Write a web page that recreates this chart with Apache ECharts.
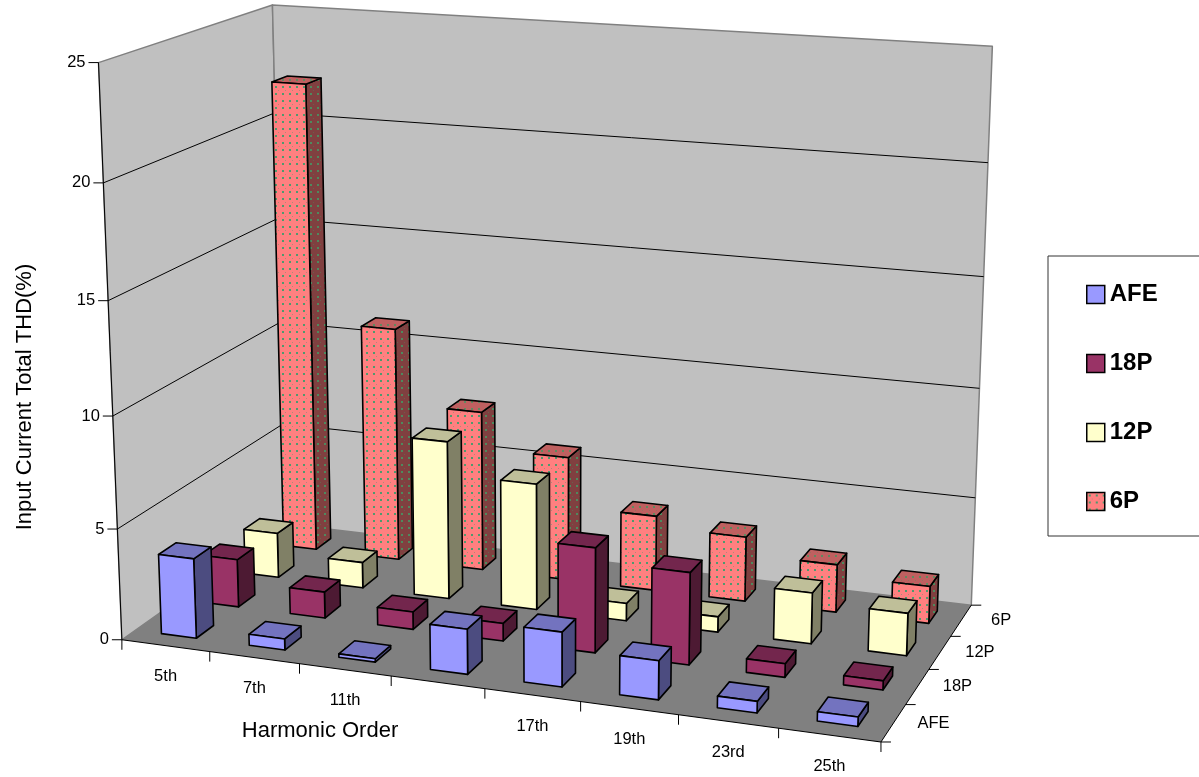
<!DOCTYPE html>
<html>
<head>
<meta charset="utf-8">
<style>html,body{margin:0;padding:0;background:#fff}#chart{width:1199px;height:777px}</style>
<script src="https://cdn.jsdelivr.net/npm/echarts@6/dist/echarts.min.js"></script>
</head>
<body>
<div id="chart"></div>
<script>
// Harmonic spectrum per converter topology, in percent of input current.
const harmonicLabels = ['5th', '7th', '11th', '', '17th', '19th', '23rd', '25th'];
const topologies = ['AFE', '18P', '12P', '6P'];
const valueTicks = [0, 5, 10, 15, 20, 25];
const afeValues = [3.6, 0.5, 0.15, 2.0, 2.4, 1.7, 0.5, 0.4];
const p18Values = [2.2, 1.2, 0.8, 0.8, 4.7, 4.1, 0.6, 0.4];
const p12Values = [2.1, 1.2, 7.3, 5.8, 0.8, 0.7, 2.3, 1.9];
const p6Values = [22, 11, 7.5, 5.8, 3.5, 3.0, 2.2, 1.7];

const FONT = '"Liberation Sans", Arial, sans-serif';
const VALUE_MAX = 25;

// Camera calibration: box coordinates [u, v, value / max] and where they land on the page.
const cameraAnchors = [
  [0, 0, 0, 122, 640], [1, 0, 0, 881, 742], [1, 1, 0, 971, 605], [0, 1, 0, 285, 524],
  [0, 0, 1, 98, 63], [0, 1, 1, 273, 5], [1, 1, 1, 992, 47],
  [0, 0, .8, 103, 183], [0, 0, .6, 108, 300], [0, 0, .4, 113, 416], [0, 0, .2, 118, 529],
  [1, 1, .8, 988, 162], [1, 1, .6, 984, 276], [1, 1, .4, 980, 389], [1, 1, .2, 975, 498]
];

// Least squares fit of a 3x4 projective camera, with the last entry fixed at 1.
function fitCamera(points) {
  const n = 11;
  const A = Array.from({ length: n }, () => new Array(n + 1).fill(0));
  const addRow = (row, rhs) => {
    for (let i = 0; i < n; i++) {
      for (let j = 0; j < n; j++) A[i][j] += row[i] * row[j];
      A[i][n] += row[i] * rhs;
    }
  };
  points.forEach(([X, Y, Z, px, py]) => {
    const x = px / 1000, y = py / 1000;
    addRow([X, Y, Z, 1, 0, 0, 0, 0, -x * X, -x * Y, -x * Z], x);
    addRow([0, 0, 0, 0, X, Y, Z, 1, -y * X, -y * Y, -y * Z], y);
  });
  for (let c = 0; c < n; c++) {
    let best = c;
    for (let r = c + 1; r < n; r++) if (Math.abs(A[r][c]) > Math.abs(A[best][c])) best = r;
    [A[c], A[best]] = [A[best], A[c]];
    for (let r = 0; r < n; r++) {
      if (r === c) continue;
      const f = A[r][c] / A[c][c];
      for (let k = c; k <= n; k++) A[r][k] -= f * A[c][k];
    }
  }
  return A.map((row, i) => row[n] / row[i]);
}
const cam = fitCamera(cameraAnchors);

// Maps category fraction u, depth fraction v and a chart value to a page position.
function project(u, v, value) {
  const w = value / VALUE_MAX;
  const d = cam[8] * u + cam[9] * v + cam[10] * w + 1;
  return [
    1000 * (cam[0] * u + cam[1] * v + cam[2] * w + cam[3]) / d,
    1000 * (cam[4] * u + cam[5] * v + cam[6] * w + cam[7]) / d
  ];
}

// Stippled fill used by the 6P bars.
function dotted(base, dot) {
  const c = document.createElement('canvas');
  c.width = 7; c.height = 14;
  const g = c.getContext('2d');
  g.fillStyle = base; g.fillRect(0, 0, 7, 14);
  g.fillStyle = dot;
  g.fillRect(2, 2, 2, 2);
  g.fillRect(2, 9, 2, 2);
  g.globalAlpha = .45;
  g.fillRect(5, 6, 1, 1);
  return { image: c, repeat: 'repeat' };
}

const faces = {
  AFE: { front: '#9999FF', top: '#7373BF', side: '#4C4C80' },
  '18P': { front: '#993366', top: '#73264D', side: '#4D1A33' },
  '12P': { front: '#FFFFCC', top: '#BFBF99', side: '#808066' },
  '6P': {
    front: dotted('#FF8080', '#4E9A6E'),
    top: dotted('#BF6060', '#5F8A60'),
    side: dotted('#804040', '#4E8A5E')
  }
};

const poly = (points, fill, lineWidth, stroke) => ({
  type: 'polygon',
  shape: { points },
  style: { fill, stroke: stroke || '#000', lineWidth: lineWidth === undefined ? 1.6 : lineWidth, lineJoin: 'round' }
});
const line = (a, b, stroke, lineWidth) => ({
  type: 'line',
  shape: { x1: a[0], y1: a[1], x2: b[0], y2: b[1] },
  style: { stroke: stroke || '#000', lineWidth: lineWidth || 1 }
});
const label = (text, x, y, size, align) => ({
  type: 'text',
  style: { text, x, y, fontFamily: FONT, fontSize: size, fill: '#000', align: align || 'center', verticalAlign: 'middle' }
});

// Walls, floor, gridlines and the three axes.
function renderFrame() {
  const children = [];
  const m = VALUE_MAX;
  children.push(poly([project(0, 0, 0), project(0, 0, m), project(0, 1, m), project(0, 1, 0)], '#C0C0C0', 1.5, '#808080'));
  children.push(poly([project(0, 1, 0), project(0, 1, m), project(1, 1, m), project(1, 1, 0)], '#C0C0C0', 1.5, '#808080'));
  children.push(poly([project(0, 0, 0), project(1, 0, 0), project(1, 1, 0), project(0, 1, 0)], '#808080', 0));
  valueTicks.forEach(t => {
    const a = project(0, 0, t);
    if (t > 0 && t < m) {
      children.push(line(a, project(0, 1, t)));
      children.push(line(project(0, 1, t), project(1, 1, t)));
    }
    children.push(line([a[0] - 10, a[1]], a, '#000', 1));
    children.push(label(String(t), a[0] - 13, a[1], 16.5, 'right'));
  });
  children.push(line(project(0, 0, 0), project(0, 0, m), '#000', 1));
  children.push(line(project(0, 0, 0), project(1, 0, 0), '#000', 1.2));
  children.push(line(project(1, 0, 0), project(1, 1, 0), '#000', 1));
  harmonicLabels.forEach((name, i) => {
    const n = harmonicLabels.length;
    const a = project(i / n, 0, 0);
    children.push(line(a, [a[0], a[1] + 10]));
    const c = project((i + .5) / n, 0, 0);
    if (name) children.push(label(name, c[0], c[1] + 31, 16.5));
  });
  const end = project(1, 0, 0);
  children.push(line(end, [end[0], end[1] + 10]));
  topologies.forEach((name, r) => {
    const n = topologies.length;
    const a = project(1, r / n, 0);
    children.push(line(a, [a[0] + 10, a[1]]));
    const c = project(1, (r + .5) / n, 0);
    children.push(label(name, c[0] + 40, c[1], 16.5));
  });
  const last = project(1, 1, 0);
  children.push(line(last, [last[0] + 10, last[1]]));
  children.push(label('Harmonic Order', 320, 731, 22));
  const yTitle = label('Input Current Total THD(%)', 0, 0, 22);
  yTitle.x = 25; yTitle.y = 397; yTitle.rotation = Math.PI / 2;
  children.push(yTitle);
  return { type: 'group', children };
}

// One bar: front, side and top faces, sized by a 40% column inside its cell.
function barRenderer(row) {
  return (params, api) => {
    const i = api.value(0), value = api.value(1);
    const name = topologies[row];
    const nu = harmonicLabels.length, nv = topologies.length;
    const u0 = (i + .3) / nu, u1 = (i + .7) / nu;
    const v0 = (row + .3) / nv, v1 = (row + .7) / nv;
    const f = faces[name];
    return {
      type: 'group',
      children: [
        poly([project(u1, v0, 0), project(u1, v1, 0), project(u1, v1, value), project(u1, v0, value)], f.side),
        poly([project(u0, v0, value), project(u1, v0, value), project(u1, v1, value), project(u0, v1, value)], f.top),
        poly([project(u0, v0, 0), project(u1, v0, 0), project(u1, v0, value), project(u0, v0, value)], f.front)
      ]
    };
  };
}

const toRows = values => values.map((v, i) => [i, v]);
const barSeries = (name, values, row) => ({
  name,
  type: 'custom',
  coordinateSystem: 'none',
  renderItem: barRenderer(row),
  data: toRows(values),
  z: 10 + (topologies.length - row),
  silent: true,
  animation: false,
  itemStyle: { color: faces[name].front, borderColor: '#000', borderWidth: 1.5 }
});

const chart = echarts.init(document.getElementById('chart'), null, { renderer: 'canvas' });
chart.setOption({
  animation: false,
  backgroundColor: '#fff',
  legend: {
    left: 1048,
    top: 256,
    orient: 'vertical',
    selectedMode: false,
    padding: [26, 120, 22, 38],
    itemWidth: 18,
    itemHeight: 18,
    itemGap: 44,
    backgroundColor: '#fff',
    borderColor: '#333',
    borderWidth: 1,
    textStyle: { fontFamily: FONT, fontSize: 24, fontWeight: 'bold', color: '#000', lineHeight: 25 },
    data: topologies.map(name => ({
      name,
      icon: 'rect',
      itemStyle: { color: faces[name].front, borderColor: '#000', borderWidth: 1.5 }
    }))
  },
  series: [
    { type: 'custom', name: 'frame', coordinateSystem: 'none', renderItem: renderFrame, data: [[0]], z: 1, silent: true },
    barSeries('6P', p6Values, 3),
    barSeries('12P', p12Values, 2),
    barSeries('18P', p18Values, 1),
    barSeries('AFE', afeValues, 0)
  ]
});
</script>
</body>
</html>
